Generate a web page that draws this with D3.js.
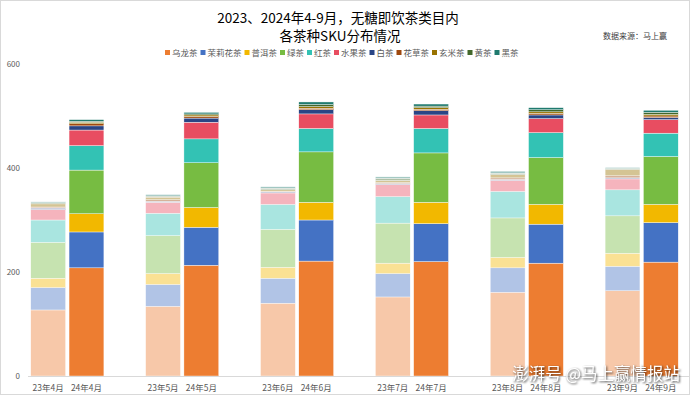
<!DOCTYPE html>
<html lang="zh">
<head>
<meta charset="UTF-8">
<title>无糖即饮茶 SKU 分布</title>
<style>
    body { margin: 0; background: #fff; }
    svg { display: block; font-family: "Noto Sans CJK SC", "Noto Sans", sans-serif; }
    .tick-label { fill: #595959; }
</style>
</head>
<body>
<div id="chart"></div>
<script src="https://d3js.org/d3.v7.min.js"></script>
<script>
// bars, in drawing order: 23年 then 24年 for each month
const barLabels = ["23年4月", "24年4月", "23年5月", "24年5月", "23年6月", "24年6月",
                   "23年7月", "24年7月", "23年8月", "24年8月", "23年9月", "24年9月"];
const teaTypes = ["乌龙茶", "茉莉花茶", "普洱茶", "绿茶", "红茶", "水果茶", "白茶", "花草茶", "玄米茶", "黄茶", "黑茶"];
const teaColors = ["#ED7D31", "#4472C4", "#F2B800", "#77BC42", "#33C2B4", "#E84D61",
                   "#2A4585", "#9E480E", "#997300", "#43682B", "#1F7A6E"];

// SKU counts per tea type, one value per bar
const oolong   = [127, 208, 134, 213, 140, 221, 152, 220, 161, 217, 164, 219];
const jasmine  = [43, 69, 42, 73, 48, 79, 45, 73, 47, 75, 47, 76];
const puer     = [18, 35, 21, 38, 21, 34, 20, 41, 20, 38, 25, 35];
const green    = [69, 84, 73, 86, 73, 97, 77, 95, 76, 90, 72, 92];
const black    = [43, 47, 43, 46, 48, 45, 51, 47, 51, 48, 50, 45];
const fruit    = [20, 30, 21, 32, 22, 28, 23, 26, 21, 27, 21, 26];
const white    = [3, 8, 2, 8, 2, 8, 2, 8, 2, 7, 2, 4];
const herbal   = [2, 4, 3, 3, 1, 3, 2, 3, 3, 3, 4, 3];
const genmai   = [6, 3, 5, 3, 3, 3, 4, 3, 6, 3, 12, 3];
const yellow   = [2, 2, 2, 2, 3, 4, 4, 3, 3, 4, 2, 4];
const dark     = [2, 3, 3, 3, 3, 5, 3, 4, 4, 4, 2, 4];
const seriesValues = [oolong, jasmine, puer, green, black, fruit, white, herbal, genmai, yellow, dark];

const yTicks = [0, 200, 400, 600];

const width = 690, height = 397;

const svg = d3.select("#chart").append("svg")
    .attr("width", width)
    .attr("height", height);

// outer frame
svg.append("rect")
    .attr("x", 0.5).attr("y", 0.5)
    .attr("width", width - 1).attr("height", height - 3)
    .attr("fill", "none")
    .attr("stroke", "#d9d9d9");

// build rows for the stack
const rows = barLabels.map((label, i) => {
    const row = { label: label, year: label.slice(0, 2) };
    teaTypes.forEach((t, k) => { row[t] = seriesValues[k][i]; });
    return row;
});

// slots: two bars per month plus an empty slot between months
const slots = [];
barLabels.forEach((l, i) => {
    slots.push(l);
    if (i % 2 === 1 && i < barLabels.length - 1) slots.push("gap" + i);
});

const x = d3.scaleBand()
    .domain(slots)
    .range([30, 679])
    .paddingInner(0.09)
    .paddingOuter(0.02);

const y = d3.scaleLinear()
    .domain([0, 600])
    .range([376, 64]);

const color = d3.scaleOrdinal().domain(teaTypes).range(teaColors);

const stack = d3.stack().keys(teaTypes);
const layers = stack(rows);

svg.append("g")
    .selectAll("g")
    .data(layers)
    .join("g")
    .attr("fill", d => color(d.key))
    .selectAll("rect")
    .data(d => d)
    .join("rect")
    .attr("x", d => x(d.data.label))
    .attr("y", d => y(d[1]))
    .attr("width", x.bandwidth())
    .attr("height", d => y(d[0]) - y(d[1]))
    .attr("fill-opacity", d => d.data.year === "23" ? 0.42 : 1)
    .attr("stroke", "#fff")
    .attr("stroke-width", 0.4);

// baseline
svg.append("line")
    .attr("x1", 28).attr("x2", width)
    .attr("y1", y(0) + 0.5).attr("y2", y(0) + 0.5)
    .attr("stroke", "#d9d9d9");

// y axis labels
svg.append("g")
    .selectAll("text")
    .data(yTicks)
    .join("text")
    .attr("class", "tick-label")
    .attr("x", 20)
    .attr("y", d => y(d) + 3)
    .attr("text-anchor", "end")
    .attr("font-size", 8)
    .text(d => d);

// x axis labels
svg.append("g")
    .selectAll("text")
    .data(barLabels)
    .join("text")
    .attr("class", "tick-label")
    .attr("x", d => x(d) + x.bandwidth() / 2)
    .attr("y", 391)
    .attr("text-anchor", "middle")
    .attr("font-size", 8.5)
    .text(d => d);

// titles
svg.append("text")
    .attr("x", 338).attr("y", 23)
    .attr("text-anchor", "middle")
    .attr("font-size", 13.5)
    .attr("fill", "#000")
    .text("2023、2024年4-9月，无糖即饮茶类目内");

svg.append("text")
    .attr("x", 340).attr("y", 41)
    .attr("text-anchor", "middle")
    .attr("font-size", 13.5)
    .attr("fill", "#000")
    .text("各茶种SKU分布情况");

svg.append("text")
    .attr("x", 667).attr("y", 38.5)
    .attr("text-anchor", "end")
    .attr("font-size", 8)
    .attr("fill", "#404040")
    .text("数据来源：马上赢");

// legend
const legendFont = 8.5;
let lx = 165;
const legend = svg.append("g");
teaTypes.forEach(t => {
    legend.append("rect")
        .attr("x", lx).attr("y", 50)
        .attr("width", 5).attr("height", 5)
        .attr("fill", color(t));
    legend.append("text")
        .attr("x", lx + 7).attr("y", 56)
        .attr("font-size", legendFont)
        .attr("fill", "#595959")
        .text(t);
    lx += t.length * legendFont + 10;
});

// watermark
svg.append("text")
    .attr("x", 680).attr("y", 380)
    .attr("text-anchor", "end")
    .attr("font-size", 16.5)
    .attr("fill", "#fff")
    .style("filter", "drop-shadow(1px 1px 1px rgba(0,0,0,0.75))")
    .text("澎湃号 @马上赢情报站");
</script>
</body>
</html>
